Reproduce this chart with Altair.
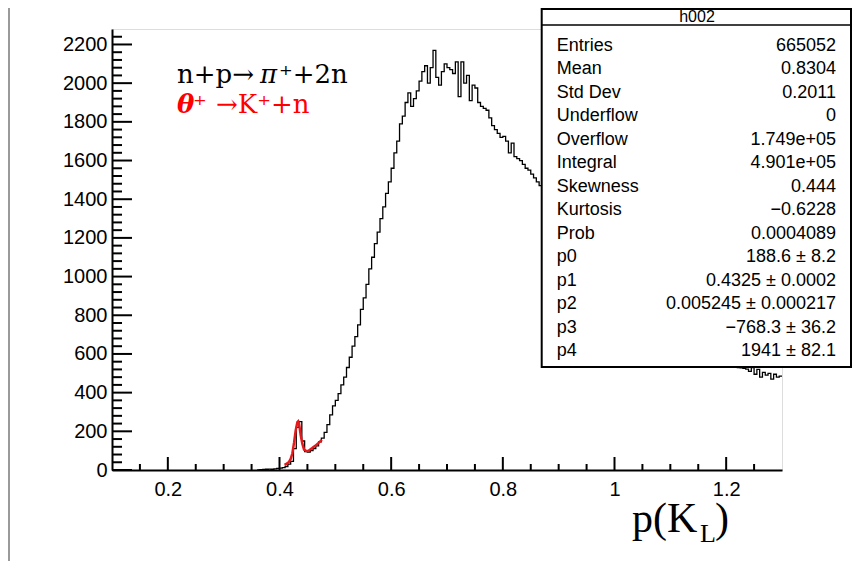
import altair as alt
import numpy as np
import pandas as pd

# ---------------- data ----------------
X_DOMAIN = [0.1, 1.3]
Y_DOMAIN = [0, 2280]

# histogram counts, bins of 0.005 starting at 0.36 (each row = 10 bins = 0.05)
hist_start = 0.36
hist_step = 0.005
hist_rows = [
    [0, 2, 3, 4, 5, 4, 6, 8, 10, 12],                                   # 0.36
    [18, 30, 45, 110, 220, 250, 150, 95, 92, 100],                       # 0.41
    [110, 125, 145, 165, 195, 235, 285, 332, 360, 395],                  # 0.46
    [440, 480, 530, 583, 640, 690, 750, 830, 890, 960],                  # 0.51
    [1040, 1100, 1170, 1230, 1300, 1360, 1430, 1490, 1560, 1640],        # 0.56
    [1700, 1790, 1830, 1900, 1950, 1880, 1920, 1960, 2010, 2060],        # 0.61
    [2090, 2000, 2080, 2170, 2030, 1990, 2060, 2100, 2080, 2070],        # 0.66
    [2050, 2110, 1930, 2110, 2000, 2040, 1910, 1990, 1975, 1900],        # 0.71
    [1880, 1870, 1860, 1820, 1780, 1760, 1740, 1720, 1725, 1700],        # 0.76
    [1640, 1690, 1620, 1610, 1600, 1580, 1560, 1550, 1530, 1510],        # 0.81
    [1490, 1470, 1460, 1440, 1430, 1400, 1390, 1370, 1350, 1330],        # 0.86
    [1320, 1290, 1280, 1250, 1240, 1210, 1200, 1170, 1160, 1130],        # 0.91
    [1120, 1090, 1080, 1050, 1040, 1010, 1000, 980, 960, 940],           # 0.96
    [930, 910, 890, 880, 860, 840, 830, 810, 800, 780],                  # 1.01
    [770, 760, 740, 730, 720, 700, 690, 680, 670, 660],                  # 1.06
    [650, 640, 630, 625, 615, 610, 600, 595, 590, 580],                  # 1.11
    [575, 570, 565, 560, 555, 550, 548, 545, 540, 538],                  # 1.16
    [535, 532, 530, 528, 525, 522, 510, 530, 495, 520],                  # 1.21
    [480, 505, 490, 500, 470, 495, 480, 485],                            # 1.26
]
hist_end = 1.3

# red fit curve
fit_x = [0.409, 0.413, 0.417, 0.420, 0.423, 0.426, 0.429, 0.432, 0.4335, 0.435,
         0.438, 0.441, 0.444, 0.448, 0.452, 0.458, 0.464, 0.470, 0.476]
fit_y = [27, 33, 42, 57, 85, 140, 205, 248, 252, 240,
         180, 135, 105, 98, 100, 112, 125, 140, 156]

# axis ticks / labels
x_major = [0.2, 0.4, 0.6, 0.8, 1.0, 1.2]
x_minor = [0.15, 0.25, 0.3, 0.35, 0.45, 0.5, 0.55, 0.65, 0.7, 0.75,
           0.85, 0.9, 0.95, 1.05, 1.1, 1.15, 1.25]
y_major = [0, 200, 400, 600, 800, 1000, 1200, 1400, 1600, 1800, 2000, 2200]
y_minor = [v for v in range(40, 2241, 40) if v % 200 != 0]

# statistics box
stats_title = "h002"
stats_labels = ["Entries", "Mean", "Std Dev", "Underflow", "Overflow", "Integral",
                "Skewness", "Kurtosis", "Prob", "p0", "p1", "p2", "p3", "p4"]
stats_values = ["665052", "0.8304", "0.2011", "0", "1.749e+05", "4.901e+05",
                "0.444", "\u22120.6228", "0.0004089", "188.6 \u00b1 8.2",
                "0.4325 \u00b1 0.0002", "0.005245 \u00b1 0.000217",
                "\u2212768.3 \u00b1 36.2", "1941 \u00b1 82.1"]

# ---------------- build tables ----------------
W, H = 670, 441

hist_counts = [c for row in hist_rows for c in row]
hist_edges = [round(hist_start + hist_step * i, 4) for i in range(len(hist_counts))]
hist_df = pd.DataFrame({"x": hist_edges + [hist_end],
                        "y": hist_counts + [hist_counts[-1]]})
fit_df = pd.DataFrame({"x": fit_x, "y": fit_y})
xmaj_df = pd.DataFrame({"v": x_major})
xmin_df = pd.DataFrame({"v": x_minor})
ymaj_df = pd.DataFrame({"v": y_major})
ymin_df = pd.DataFrame({"v": y_minor})
stats_df = pd.DataFrame({"label": stats_labels, "value": stats_values,
                         "row": list(range(len(stats_labels)))})
one = pd.DataFrame({"a": [0]})

xs = alt.Scale(domain=X_DOMAIN, nice=False, zero=False)
ys = alt.Scale(domain=Y_DOMAIN, nice=False, zero=False)
SANS = "Liberation Sans"
SERIF = "DejaVu Serif"

x_axis = alt.Axis(values=x_major, format="~g", ticks=False, grid=False,
                  domainColor="black", domainWidth=2, labelFont=SANS,
                  labelFontSize=20, labelColor="black", labelPadding=9,
                  labelOverlap=False, title=None)
y_axis = alt.Axis(values=y_major, format="d", ticks=False, grid=False,
                  domainColor="black", domainWidth=2, labelFont=SANS,
                  labelFontSize=20, labelColor="black", labelPadding=5,
                  labelOverlap=False, title=None)


def X(field):
    return alt.X(field, scale=xs, axis=x_axis)


def Y(field):
    return alt.Y(field, scale=ys, axis=y_axis)


hist = alt.Chart(hist_df).mark_line(
    interpolate="step-after", color="black", strokeWidth=1.3
).encode(x=X("x:Q"), y=Y("y:Q"))

fit = alt.Chart(fit_df).mark_line(color="#e31a1c", strokeWidth=2.5).encode(
    x=X("x:Q"), y=Y("y:Q"))

xmaj = alt.Chart(xmaj_df).mark_rule(color="black", strokeWidth=2).encode(
    x=X("v:Q"), y=alt.value(H), y2=alt.value(H - 13))
xmin = alt.Chart(xmin_df).mark_rule(color="black", strokeWidth=2).encode(
    x=X("v:Q"), y=alt.value(H), y2=alt.value(H - 6))
ymaj = alt.Chart(ymaj_df).mark_rule(color="black", strokeWidth=2).encode(
    y=Y("v:Q"), x=alt.value(0), x2=alt.value(20))
ymin = alt.Chart(ymin_df).mark_rule(color="black", strokeWidth=2).encode(
    y=Y("v:Q"), x=alt.value(0), x2=alt.value(10))

# stats box (rows laid out in pixels, converted to the y scale)
box = alt.Chart(one).mark_rect(fill="white", stroke="black", strokeWidth=2).encode(
    x=alt.value(429.7), x2=alt.value(739), y=alt.value(-20), y2=alt.value(338))
box_sep = alt.Chart(one).mark_rule(color="black", strokeWidth=1.5).encode(
    x=alt.value(429.7), x2=alt.value(739), y=alt.value(-4))
box_title = alt.Chart(one).mark_text(
    font=SANS, fontSize=16, color="black", align="center", baseline="middle"
).encode(x=alt.value(585), y=alt.value(-12), text=alt.value(stats_title))
row_pos = f"({H} - (datum.row * 23.5 + 16.7)) / {H} * {Y_DOMAIN[1]}"
stats_lab = alt.Chart(stats_df).transform_calculate(yv=row_pos).mark_text(
    font=SANS, fontSize=18, color="black", align="left", baseline="middle"
).encode(x=alt.value(444.7), y=Y("yv:Q"), text="label:N")
stats_val = alt.Chart(stats_df).transform_calculate(yv=row_pos).mark_text(
    font=SANS, fontSize=18, color="black", align="right", baseline="middle"
).encode(x=alt.value(724), y=Y("yv:Q"), text="value:N")


def txt(s, x, y, size=26, color="black", font=SERIF, **kw):
    return alt.Chart(one).mark_text(font=font, fontSize=size, color=color,
                                    align="left", baseline="alphabetic", **kw
                                    ).encode(x=alt.value(x), y=alt.value(y),
                                             text=alt.value(s))


annots = [
    txt("n+p\u2192", 65, 54),
    txt("\u03c0", 148, 54, fontStyle="italic"),
    txt("\u207a+2n", 167, 54),
    txt("\u03b8", 65, 84, color="red", fontWeight="bold", fontStyle="italic"),
    txt("\u207a", 81, 84, color="red"),
    txt("\u2192K\u207a+n", 104, 84, color="red"),
    txt("p(K", 520, 503, size=42, font="Liberation Serif"),
    txt("L", 588, 513, size=26, font="Liberation Serif"),
    txt(")", 603, 503, size=42, font="Liberation Serif"),
]

edge = alt.Chart(one).mark_rule(color="#9a9a9a", strokeWidth=2).encode(
    x=alt.value(-103), y=alt.value(-21), y2=alt.value(532))

chart = alt.layer(
    hist, fit, xmin, xmaj, ymin, ymaj, edge,
    box, box_sep, box_title, stats_lab, stats_val,
    *annots
).properties(
    width=W, height=H,
    autosize=alt.AutoSizeParams(type="none"),
    padding={"left": 104, "top": 21, "right": 71, "bottom": 91},
).configure_view(stroke="black", strokeWidth=1.5).configure(background="white")

chart.save("out.html", embed_options={"renderer": "svg", "actions": False})
